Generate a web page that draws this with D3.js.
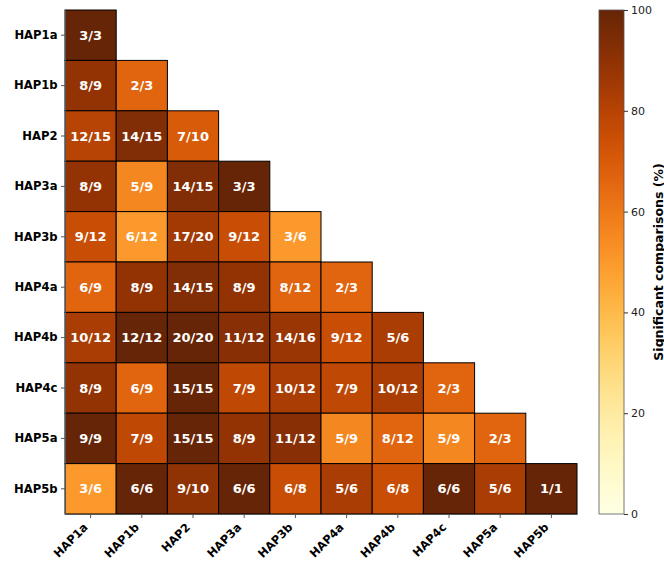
<!DOCTYPE html>
<html>
<head>
<meta charset="utf-8">
<script src="https://cdn.jsdelivr.net/npm/d3@7"></script>
<style>
  body { margin: 0; background: #fff; }
  text { font-family: "DejaVu Sans", sans-serif; }
</style>
</head>
<body>
<div id="chart"></div>
<script>
let haps = ["HAP1a", "HAP1b", "HAP2", "HAP3a", "HAP3b", "HAP4a", "HAP4b", "HAP4c", "HAP5a", "HAP5b"]

// significant / total comparisons, lower triangle, one list per row
let counts = [
  ["3/3"],
  ["8/9", "2/3"],
  ["12/15", "14/15", "7/10"],
  ["8/9", "5/9", "14/15", "3/3"],
  ["9/12", "6/12", "17/20", "9/12", "3/6"],
  ["6/9", "8/9", "14/15", "8/9", "8/12", "2/3"],
  ["10/12", "12/12", "20/20", "11/12", "14/16", "9/12", "5/6"],
  ["8/9", "6/9", "15/15", "7/9", "10/12", "7/9", "10/12", "2/3"],
  ["9/9", "7/9", "15/15", "8/9", "11/12", "5/9", "8/12", "5/9", "2/3"],
  ["3/6", "6/6", "9/10", "6/6", "6/8", "5/6", "6/8", "6/6", "5/6", "1/1"]
]

let cbTicks = [0, 20, 40, 60, 80, 100]
let cbLabel = "Significant comparisons (%)"

let width = 664, height = 562
let mLeft = 65, mRight = 577, mTop = 10, mBottom = 514

let cells = []
counts.forEach((row, i) => {
  row.forEach((c, j) => {
    let [a, b] = c.split("/").map(Number)
    cells.push({row: haps[i], col: haps[j], label: c, pct: a / b * 100})
  })
})

let svg = d3.select('#chart')
  .append('svg')
  .attr('width', width)
  .attr('height', height)

let x = d3.scaleBand().domain(haps).range([mLeft, mRight])
let y = d3.scaleBand().domain(haps).range([mTop, mBottom])

let color = d3.scaleSequential(d3.interpolateYlOrBr).domain([0, 100])

// cells
let g = svg.append('g')
g.selectAll('rect')
  .data(cells)
  .enter()
  .append('rect')
  .attr('x', d => x(d.col))
  .attr('y', d => y(d.row))
  .attr('width', x.bandwidth())
  .attr('height', y.bandwidth())
  .attr('fill', d => color(d.pct))
  .attr('stroke', '#000')
  .attr('stroke-width', 1)

g.selectAll('text')
  .data(cells)
  .enter()
  .append('text')
  .attr('x', d => x(d.col) + x.bandwidth() / 2)
  .attr('y', d => y(d.row) + y.bandwidth() / 2)
  .attr('dy', '0.36em')
  .attr('text-anchor', 'middle')
  .attr('fill', '#fff')
  .style('font-size', '13px')
  .style('font-weight', 'bold')
  .text(d => d.label)

// axes
let yAxis = svg.append('g')
  .attr('transform', `translate(${mLeft},0)`)
  .call(d3.axisLeft(y).tickSize(4).tickSizeOuter(0).tickPadding(3.5))
yAxis.select('.domain').attr('stroke', '#555')
yAxis.selectAll('.tick line').attr('stroke', '#555')
yAxis.selectAll('text')
  .style('font-size', '11.6px')
  .style('font-weight', 'bold')
  .attr('fill', '#000')

let xAxis = svg.append('g')
  .attr('transform', `translate(0,${mBottom})`)
  .call(d3.axisBottom(x).tickSize(4).tickSizeOuter(0).tickPadding(3))
xAxis.select('.domain').attr('stroke', '#555')
xAxis.selectAll('.tick line').attr('stroke', '#555')
xAxis.selectAll('text')
  .style('font-size', '11.5px')
  .style('font-weight', 'bold')
  .attr('fill', '#000')
  .attr('text-anchor', 'end')
  .attr('y', 0)
  .attr('dy', 0)
  .attr('transform', 'translate(-2,14) rotate(-45)')

// colour bar
let cbX = 599, cbW = 25
let defs = svg.append('defs')
let grad = defs.append('linearGradient')
  .attr('id', 'cb')
  .attr('x1', 0).attr('y1', 1).attr('x2', 0).attr('y2', 0)
d3.range(0, 101, 5).forEach(v => {
  grad.append('stop').attr('offset', v / 100).attr('stop-color', color(v))
})

let cbScale = d3.scaleLinear().domain([0, 100]).range([mBottom, mTop])
svg.append('rect')
  .attr('x', cbX).attr('y', mTop)
  .attr('width', cbW).attr('height', mBottom - mTop)
  .attr('fill', 'url(#cb)')
  .attr('stroke', '#555')
  .attr('stroke-width', 0.8)

let cbAxis = svg.append('g')
  .attr('transform', `translate(${cbX + cbW},0)`)
  .call(d3.axisRight(cbScale).tickValues(cbTicks).tickSize(4).tickPadding(3))
cbAxis.select('.domain').remove()
cbAxis.selectAll('.tick line').attr('stroke', '#333')
cbAxis.selectAll('text')
  .style('font-size', '11px')
  .attr('fill', '#222')

svg.append('text')
  .attr('transform', `translate(658,${(mTop + mBottom) / 2}) rotate(-90)`)
  .attr('text-anchor', 'middle')
  .attr('dy', '0.36em')
  .style('font-size', '12.5px')
  .style('font-weight', 'bold')
  .text(cbLabel)
</script>
</body>
</html>
